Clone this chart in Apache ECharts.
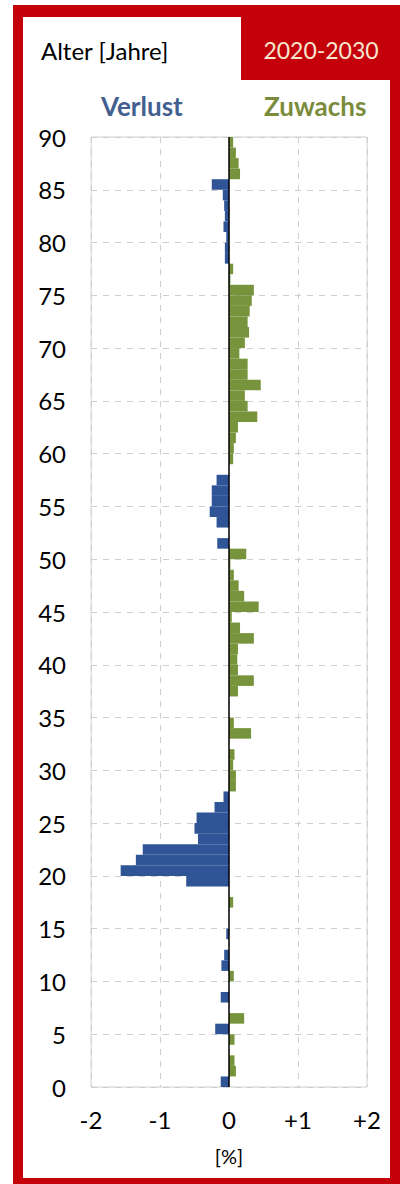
<!DOCTYPE html>
<html>
<head>
<meta charset="utf-8">
<script src="https://cdn.jsdelivr.net/npm/echarts@6/dist/echarts.min.js"></script>
<style>
html,body{margin:0;padding:0;background:#fff;}
#chart{width:400px;height:1184px;}
</style>
</head>
<body>
<div id="chart"></div>
<script>
// Ages 0..89 (one-year bins)
const ages = Array.from({length: 90}, (_, i) => String(i));
// Verlust (loss, %) by age 0..89
const verlust = [
  -0.12, 0, 0, 0, 0, -0.20, 0, 0, -0.12, 0,
  0, -0.11, -0.07, 0, -0.04, 0, 0, 0, 0, -0.62,
  -1.57, -1.35, -1.25, -0.45, -0.50, -0.47, -0.21, -0.08, 0, 0,
  0, 0, 0, 0, 0, 0, 0, 0, 0, 0,
  0, 0, 0, 0, 0, 0, 0, 0, 0, 0,
  0, -0.17, 0, -0.18, -0.28, -0.25, -0.25, -0.18, 0, 0,
  0, 0, 0, 0, 0, 0, 0, 0, 0, 0,
  0, 0, 0, 0, 0, 0, 0, 0, -0.06, -0.06,
  -0.04, -0.08, -0.06, -0.07, -0.09, -0.25, 0, 0, 0, 0
];
// Zuwachs (gain, %) by age 0..89
const zuwachs = [
  0, 0.10, 0.08, 0, 0.08, 0, 0.22, 0, 0, 0,
  0.07, 0, 0, 0, 0, 0, 0, 0.06, 0, 0,
  0, 0, 0, 0, 0, 0, 0, 0, 0.10, 0.10,
  0.06, 0.08, 0, 0.32, 0.07, 0, 0, 0.13, 0.36, 0.13,
  0.12, 0.13, 0.36, 0.16, 0.04, 0.43, 0.22, 0.14, 0.07, 0.02,
  0.25, 0, 0, 0, 0, 0, 0, 0, 0, 0.06,
  0.07, 0.10, 0.13, 0.41, 0.27, 0.23, 0.46, 0.27, 0.27, 0.15,
  0.23, 0.29, 0.27, 0.30, 0.33, 0.36, 0.02, 0.06, 0, 0,
  0, 0, 0, 0, 0, 0, 0.16, 0.14, 0.10, 0.06
];
const xTickLabels = {'-2': '-2', '-1': '-1', '0': '0', '1': '+1', '2': '+2'};

const FONT = 'Lato, "Open Sans", sans-serif';
const RED = '#c4000b';
const chart = echarts.init(document.getElementById('chart'), null, {renderer: 'svg'});
chart.setOption({
  animation: false,
  backgroundColor: '#ffffff',
  graphic: {
    elements: [
      {type: 'rect', z: -10, shape: {x: 13, y: 5, width: 387, height: 1179}, style: {fill: RED}},
      {type: 'rect', z: -9, shape: {x: 23, y: 17, width: 367, height: 1161}, style: {fill: '#ffffff'}},
      {type: 'rect', z: -8, shape: {x: 241, y: 17, width: 149, height: 63}, style: {fill: RED}}
    ]
  },
  title: [
    {text: 'Alter [Jahre]', left: 36, top: 33, textStyle: {fontFamily: FONT, fontSize: 24, fontWeight: 'normal', color: '#000'}},
    {text: '2020-2030', left: 316, textAlign: 'center', top: 33, textStyle: {fontFamily: FONT, fontSize: 23, fontWeight: 'normal', color: '#f7e7cf'}},
    {text: 'Verlust', left: 96, top: 88, textStyle: {fontFamily: FONT, fontSize: 26, fontWeight: 'bold', color: '#42608f'}},
    {text: 'Zuwachs', left: 259, top: 88, textStyle: {fontFamily: FONT, fontSize: 26, fontWeight: 'bold', color: '#7a8b3c'}}
  ],
  grid: {left: 91, right: 33, top: 137, bottom: 97, show: true, borderColor: '#d0d0d0', borderWidth: 1, backgroundColor: 'transparent'},
  xAxis: {
    type: 'value', min: -2, max: 2, interval: 1,
    axisLine: {show: false}, axisTick: {show: false},
    splitLine: {show: true, lineStyle: {color: '#cfcfcf', type: [6, 6], width: 1}},
    axisLabel: {fontFamily: FONT, fontSize: 24, color: '#000', margin: 20,
      formatter: v => xTickLabels[String(v)]},
    name: '[%]', nameLocation: 'middle', nameGap: 59,
    nameTextStyle: {fontFamily: FONT, fontSize: 20, color: '#000'}
  },
  yAxis: [
    {
      type: 'category', data: ages, position: 'left',
      axisLine: {show: false}, axisTick: {show: false}, axisLabel: {show: false}, splitLine: {show: false}
    },
    {
      type: 'value', min: 0, max: 90, interval: 5, position: 'left',
      axisLine: {show: false}, axisTick: {show: false},
      splitLine: {show: true, lineStyle: {color: '#cfcfcf', type: [6, 6], width: 1}},
      axisLabel: {fontFamily: FONT, fontSize: 24, color: '#000', margin: 25}
    }
  ],
  series: [
    {
      name: 'Verlust', type: 'bar', yAxisIndex: 0, data: verlust,
      barGap: '-100%', barCategoryGap: '0%',
      itemStyle: {color: '#2f5597'},
      markLine: {
        silent: true, symbol: 'none', label: {show: false},
        lineStyle: {color: '#000', type: 'solid', width: 1.5},
        data: [{xAxis: 0}]
      }
    },
    {
      name: 'Zuwachs', type: 'bar', yAxisIndex: 0, data: zuwachs,
      barGap: '-100%', barCategoryGap: '0%',
      itemStyle: {color: '#77933c'}
    }
  ]
});
</script>
</body>
</html>
